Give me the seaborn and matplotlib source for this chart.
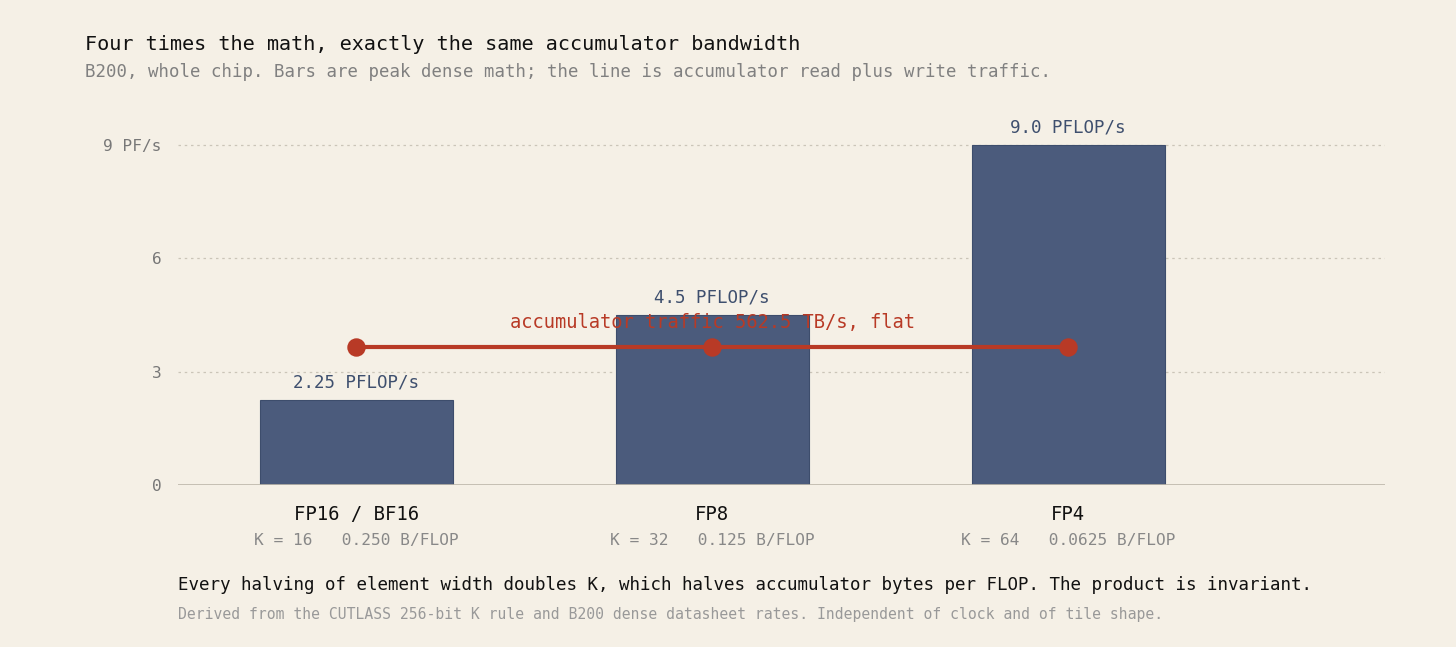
import matplotlib
matplotlib.use('Agg')
import matplotlib.pyplot as plt
import matplotlib.transforms as mtransforms
import seaborn as sns

# data
formats = ["FP16 / BF16", "FP8", "FP4"]
peak_pflops = [2.25, 4.5, 9.0]
bar_labels = ["2.25 PFLOP/s", "4.5 PFLOP/s", "9.0 PFLOP/s"]
k_values = [16, 32, 64]
bytes_per_flop = ["0.250", "0.125", "0.0625"]
traffic_level = [3.65, 3.65, 3.65]  # accumulator traffic drawn on the PF/s axis
y_ticks = [0, 3, 6, 9]
y_tick_labels = ["0", "3", "6", "9 PF/s"]

BG = "#f5f0e6"
BAR = "#4b5b7c"
RED = "#b83a26"
MONO = ["DejaVu Sans Mono"]

sns.set_theme(style="white")
plt.rcParams['font.family'] = MONO
plt.rcParams['figure.facecolor'] = BG
plt.rcParams['axes.facecolor'] = BG

fig = plt.figure(figsize=(14.56, 6.47), dpi=100)
ax = fig.add_axes([0.1223, 0.2504, 0.8289, 0.5842])

sns.barplot(x=formats, y=peak_pflops, color=BAR, saturation=1, width=0.542,
            edgecolor="#3d4d6c", linewidth=0.8, ax=ax, zorder=2)
sns.pointplot(x=formats, y=traffic_level, color=RED, markers="o",
              markersize=11, linewidth=3, ax=ax, zorder=4)

ax.set_xlim(-0.5, 2.89)
ax.set_ylim(0, 10)
ax.set_yticks(y_ticks)
ax.set_yticklabels(y_tick_labels, color="#777777", fontsize=11.6)
ax.tick_params(axis="y", length=0, pad=12)
ax.set_xticks([])
ax.set_xlabel("")
ax.set_ylabel("")
for y in y_ticks[1:]:
    ax.axhline(y, color="#cbc5b8", linestyle=(0, (2, 3)), linewidth=0.9, zorder=0)
ax.axhline(0, color="#bdb7aa", linewidth=1.2, zorder=3)
for s in ax.spines.values():
    s.set_visible(False)

for i, (v, lab) in enumerate(zip(peak_pflops, bar_labels)):
    ax.text(i, v + 0.22, lab, ha="center", va="bottom", color="#3e4f6e", fontsize=12.6)

ax.text(1, traffic_level[1] + 0.4, "accumulator traffic 562.5 TB/s, flat",
        ha="center", va="bottom", color=RED, fontsize=13.5, zorder=5)

# category names and K / bytes-per-FLOP lines under the baseline
xt = ax.get_xaxis_transform()
name_shift = xt + mtransforms.ScaledTranslation(0, -0.30, fig.dpi_scale_trans)
sub_shift = xt + mtransforms.ScaledTranslation(0, -0.56, fig.dpi_scale_trans)
for i, (name, k, b) in enumerate(zip(formats, k_values, bytes_per_flop)):
    ax.text(i, 0, name, transform=name_shift, ha="center", va="center",
            color="#111111", fontsize=13.6)
    ax.text(i, 0, f"K = {k}   {b} B/FLOP", transform=sub_shift, ha="center", va="center",
            color="#888888", fontsize=11.6)

fig.text(85 / 1456, 1 - 45 / 647, "Four times the math, exactly the same accumulator bandwidth",
         ha="left", va="center", color="#111111", fontsize=14.5)
fig.text(85 / 1456, 1 - 72 / 647,
         "B200, whole chip. Bars are peak dense math; the line is accumulator read plus write traffic.",
         ha="left", va="center", color="#808080", fontsize=12.5)
fig.text(178 / 1456, 1 - 585 / 647,
         "Every halving of element width doubles K, which halves accumulator bytes per FLOP. The product is invariant.",
         ha="left", va="center", color="#111111", fontsize=12.6)
fig.text(178 / 1456, 1 - 615 / 647,
         "Derived from the CUTLASS 256-bit K rule and B200 dense datasheet rates. Independent of clock and of tile shape.",
         ha="left", va="center", color="#999999", fontsize=10.6)

fig.savefig("out.png", dpi=100, facecolor=BG)
